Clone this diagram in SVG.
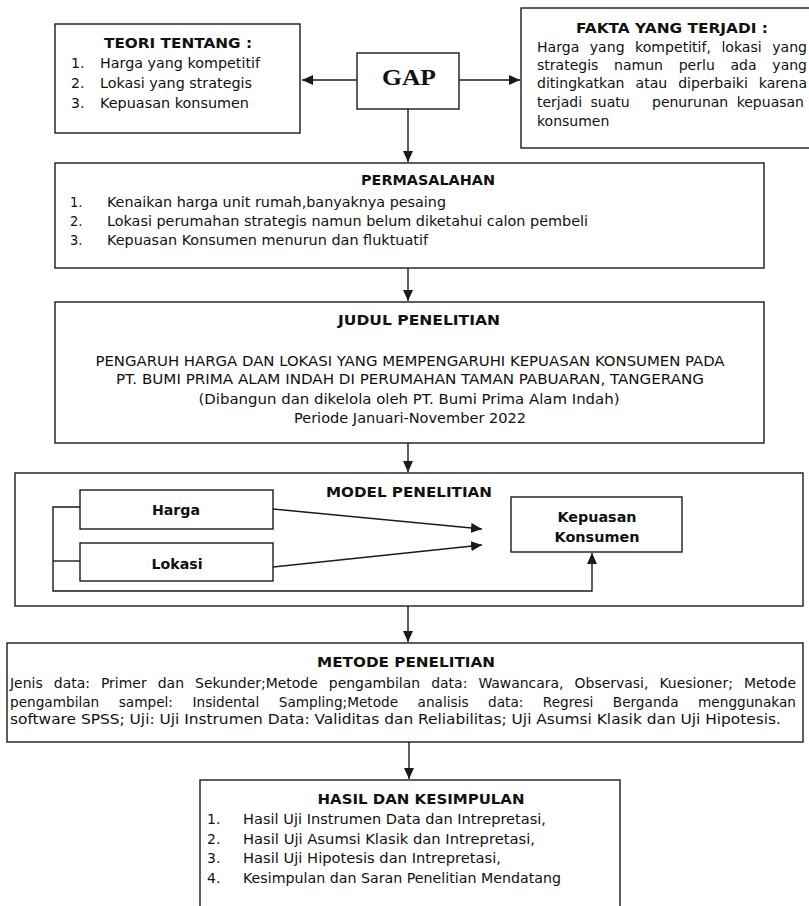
<svg xmlns="http://www.w3.org/2000/svg" width="809" height="906" viewBox="0 0 809 906">
<style>
.box{fill:#fff;stroke:#1a1a1a;stroke-width:1.4}
.ln{fill:none;stroke:#1a1a1a;stroke-width:1.4}
.v{font-family:"DejaVu Sans","Verdana",sans-serif;font-size:14px;fill:#111}
.vb{font-family:"DejaVu Sans","Verdana",sans-serif;font-size:14.5px;font-weight:bold;fill:#111}
.c{font-family:"DejaVu Sans Condensed","DejaVu Sans",sans-serif;font-size:14.5px;fill:#111}
.cb{font-family:"DejaVu Sans Condensed","DejaVu Sans",sans-serif;font-size:14.5px;font-weight:bold;fill:#111}
.m{text-anchor:middle}
.gap{font-family:"Liberation Serif","Times New Roman",serif;font-size:24px;font-weight:bold;fill:#111}
</style>
<defs>
<marker id="ah" markerWidth="11" markerHeight="10" refX="11" refY="5" orient="auto" markerUnits="userSpaceOnUse">
<path d="M0,0 L11,5 L0,10 z" fill="#1a1a1a"/>
</marker>
</defs>

<g id="teori">
<rect class="box" x="55" y="24" width="245" height="109"/>
<text class="vb m" x="178" y="48" textLength="148" lengthAdjust="spacingAndGlyphs">TEORI TENTANG :</text>
<text class="v" x="71" y="68">1.</text>
<text class="v" x="100" y="68" textLength="160" lengthAdjust="spacingAndGlyphs">Harga yang kompetitif</text>
<text class="v" x="71" y="88">2.</text>
<text class="v" x="100" y="88" textLength="152" lengthAdjust="spacingAndGlyphs">Lokasi yang strategis</text>
<text class="v" x="71" y="108">3.</text>
<text class="v" x="100" y="108" textLength="149" lengthAdjust="spacingAndGlyphs">Kepuasan konsumen</text>
</g>

<g id="gap">
<rect class="box" x="357" y="53" width="102" height="56"/>
<text class="gap m" x="409" y="85" textLength="54" lengthAdjust="spacingAndGlyphs">GAP</text>
</g>

<g id="fakta">
<rect class="box" x="521" y="8" width="292" height="140"/>
<text class="vb m" x="672" y="33" textLength="192" lengthAdjust="spacingAndGlyphs">FAKTA YANG TERJADI :</text>
<text class="v" x="537" y="52" style="word-spacing:6px" textLength="270" lengthAdjust="spacingAndGlyphs">Harga yang kompetitif, lokasi yang</text>
<text class="v" x="537" y="70" style="word-spacing:11.3px" textLength="270" lengthAdjust="spacingAndGlyphs">strategis namun perlu ada yang</text>
<text class="v" x="537" y="88" style="word-spacing:6.5px" textLength="270" lengthAdjust="spacingAndGlyphs">ditingkatkan atau diperbaiki karena</text>
<text class="v" x="537" y="107"><tspan style="word-spacing:4px">terjadi suatu</tspan><tspan x="652" style="word-spacing:4px">penurunan kepuasan</tspan></text>
<text class="v" x="537" y="126">konsumen</text>
</g>

<g id="permasalahan">
<rect class="box" x="55" y="163" width="709" height="105"/>
<text class="cb m" x="428" y="185" textLength="134" lengthAdjust="spacingAndGlyphs">PERMASALAHAN</text>
<text class="c" x="70" y="207">1.</text>
<text class="c" x="107" y="207" textLength="339" lengthAdjust="spacingAndGlyphs">Kenaikan harga unit rumah,banyaknya pesaing</text>
<text class="c" x="70" y="226">2.</text>
<text class="c" x="107" y="226" textLength="481" lengthAdjust="spacingAndGlyphs">Lokasi perumahan strategis namun belum diketahui calon pembeli</text>
<text class="c" x="70" y="245">3.</text>
<text class="c" x="107" y="245" textLength="321" lengthAdjust="spacingAndGlyphs">Kepuasan Konsumen menurun dan fluktuatif</text>
</g>

<g id="judul">
<rect class="box" x="55" y="302" width="709" height="141"/>
<text class="cb m" x="419" y="325" textLength="162" lengthAdjust="spacingAndGlyphs">JUDUL PENELITIAN</text>
<text class="c m" x="410" y="366" textLength="629" lengthAdjust="spacingAndGlyphs">PENGARUH HARGA DAN LOKASI YANG MEMPENGARUHI KEPUASAN KONSUMEN PADA</text>
<text class="c m" x="410" y="384" textLength="588" lengthAdjust="spacingAndGlyphs">PT. BUMI PRIMA ALAM INDAH DI PERUMAHAN TAMAN PABUARAN, TANGERANG</text>
<text class="c m" x="409" y="404" textLength="421" lengthAdjust="spacingAndGlyphs">(Dibangun dan dikelola oleh PT. Bumi Prima Alam Indah)</text>
<text class="c m" x="410" y="423" textLength="232" lengthAdjust="spacingAndGlyphs">Periode Januari-November 2022</text>
</g>

<g id="model">
<rect class="box" x="15" y="473" width="788" height="133"/>
<text class="cb m" x="409" y="497" textLength="166" lengthAdjust="spacingAndGlyphs">MODEL PENELITIAN</text>
</g>

<g id="harga">
<rect class="box" x="80" y="490" width="193" height="39"/>
<text class="cb m" x="176" y="515" textLength="48" lengthAdjust="spacingAndGlyphs">Harga</text>
</g>

<g id="lokasi">
<rect class="box" x="80" y="543" width="193" height="38"/>
<text class="cb m" x="177" y="569" textLength="51" lengthAdjust="spacingAndGlyphs">Lokasi</text>
</g>

<g id="kepuasan">
<rect class="box" x="511" y="497" width="171" height="55"/>
<text class="cb m" x="597" y="522" textLength="79" lengthAdjust="spacingAndGlyphs">Kepuasan</text>
<text class="cb m" x="597" y="542" textLength="85" lengthAdjust="spacingAndGlyphs">Konsumen</text>
</g>

<g id="metode">
<rect class="box" x="7" y="643" width="796" height="99"/>
<text class="cb m" x="406" y="667" textLength="178" lengthAdjust="spacingAndGlyphs">METODE PENELITIAN</text>
<text class="c" x="10" y="688" style="font-size:14px;word-spacing:6px" textLength="786" lengthAdjust="spacingAndGlyphs">Jenis data: Primer dan Sekunder;Metode pengambilan data: Wawancara, Observasi, Kuesioner; Metode</text>
<text class="c" x="10" y="707" style="font-size:14px;word-spacing:14px" textLength="786" lengthAdjust="spacingAndGlyphs">pengambilan sampel: Insidental Sampling;Metode analisis data: Regresi Berganda menggunakan</text>
<text class="c" x="10" y="724" style="font-size:14px" textLength="771" lengthAdjust="spacingAndGlyphs">software SPSS; Uji: Uji Instrumen Data: Validitas dan Reliabilitas; Uji Asumsi Klasik dan Uji Hipotesis.</text>
</g>

<g id="hasil">
<rect class="box" x="200" y="780" width="420" height="140"/>
<text class="vb m" x="421" y="804" textLength="207" lengthAdjust="spacingAndGlyphs">HASIL DAN KESIMPULAN</text>
<text class="v" x="207" y="824">1.</text>
<text class="v" x="243" y="824" textLength="303" lengthAdjust="spacingAndGlyphs">Hasil Uji Instrumen Data dan Intrepretasi,</text>
<text class="v" x="207" y="844">2.</text>
<text class="v" x="243" y="844" textLength="292" lengthAdjust="spacingAndGlyphs">Hasil Uji Asumsi Klasik dan Intrepretasi,</text>
<text class="v" x="207" y="863">3.</text>
<text class="v" x="243" y="863" textLength="258" lengthAdjust="spacingAndGlyphs">Hasil Uji Hipotesis dan Intrepretasi,</text>
<text class="v" x="207" y="883">4.</text>
<text class="v" x="243" y="883" textLength="318" lengthAdjust="spacingAndGlyphs">Kesimpulan dan Saran Penelitian Mendatang</text>
</g>

<g id="connectors">
<path class="ln" d="M357,80 L302,80" marker-end="url(#ah)"/>
<path class="ln" d="M459,80 L520,80" marker-end="url(#ah)"/>
<path class="ln" d="M408,109 L408,162" marker-end="url(#ah)"/>
<path class="ln" d="M408,268 L408,301" marker-end="url(#ah)"/>
<path class="ln" d="M408,443 L408,472" marker-end="url(#ah)"/>
<path class="ln" d="M408,606 L408,642" marker-end="url(#ah)"/>
<path class="ln" d="M409,742 L409,779" marker-end="url(#ah)"/>
<path class="ln" d="M273,509 L482,529" marker-end="url(#ah)"/>
<path class="ln" d="M273,567 L482,545" marker-end="url(#ah)"/>
<path class="ln" d="M80,507 L53,507 L53,591 L592,591 L592,553" marker-end="url(#ah)"/>
<path class="ln" d="M53,561 L80,561"/>
</g>
</svg>
